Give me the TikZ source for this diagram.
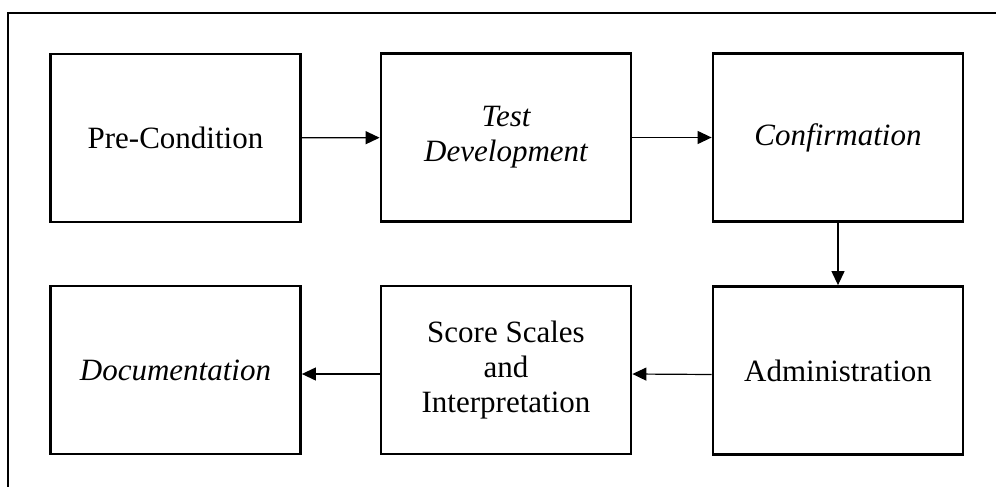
\documentclass[tikz,border=0pt]{standalone}
\usepackage{fontspec}
\setmainfont{Liberation Serif}
\usetikzlibrary{arrows.meta}
\begin{document}
\begin{tikzpicture}[x=0.5pt,y=-0.5pt,
  stage/.style={draw, line width=1.4pt, rectangle, minimum width=125pt,
    minimum height=84pt, inner sep=0pt, align=center,
    font=\fontsize{15.5}{17.6}\selectfont},
  flow/.style={line width=0.6pt, -{Triangle[length=7pt,width=6.5pt]}}]
  \useasboundingbox (0,0) rectangle (996,487);
  % outer frame (only its top and left sides fall inside the page)
  \draw[line width=1.4pt] (8,500) -- (8,13) -- (1010,13);
  % upper row
  \node[stage] (pre)  at (175.5,138) {Pre-Condition};
  \node[stage] (test) at (506,137.5) {\itshape Test\\\itshape Development};
  \node[stage] (conf) at (838,137.5) {\itshape Confirmation};
  % lower row
  \node[stage] (doc)   at (175.5,370) {\itshape Documentation};
  \node[stage] (score) at (506,370) {Score Scales\\and\\Interpretation};
  \node[stage] (adm)   at (838,370.5) {Administration};
  % connectors
  \draw[flow] (pre) -- (test);
  \draw[flow] (test) -- (conf);
  \draw[flow] (conf) -- (adm);
  \draw[flow] ([yshift=-2pt]adm.west) -- ([yshift=-2pt]score.east);
  \draw[flow] ([yshift=-2pt]score.west) -- ([yshift=-2pt]doc.east);
\end{tikzpicture}
\end{document}
